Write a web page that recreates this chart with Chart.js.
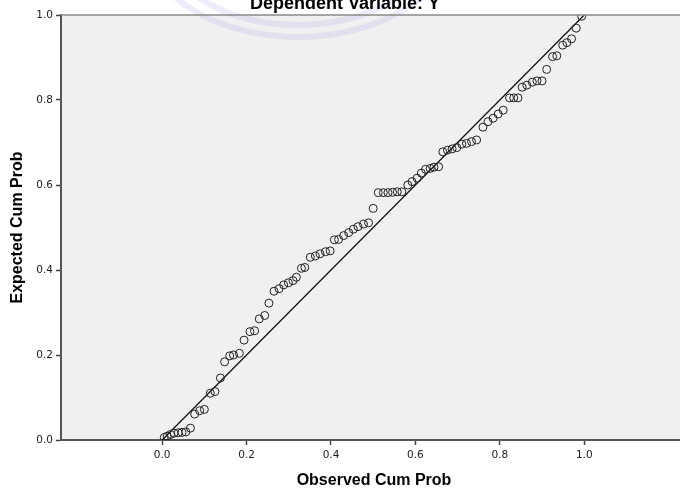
<!DOCTYPE html>
<html>
<head>
<meta charset="utf-8">
<script src="https://cdn.jsdelivr.net/npm/chart.js@4.4.1/dist/chart.umd.min.js"></script>
<style>
html, body { margin: 0; padding: 0; background: #fff; overflow: hidden; }
#wrap { width: 692px; height: 490px; }
</style>
</head>
<body>
<div id="wrap"><canvas id="ppPlot" width="692" height="490"></canvas></div>
<script>
// observed cum prob (x) and expected cum prob (y)
var observed = [0.005, 0.012, 0.020, 0.028, 0.038, 0.047, 0.056, 0.067, 0.077, 0.089,
  0.100, 0.114, 0.125, 0.138, 0.148, 0.160, 0.169, 0.183, 0.194,
  0.208, 0.219, 0.230, 0.243, 0.253, 0.265, 0.277, 0.288, 0.299, 0.310,
  0.318, 0.330, 0.338, 0.351, 0.363, 0.374, 0.387, 0.398,
  0.408, 0.418, 0.430, 0.442, 0.453, 0.464, 0.477, 0.489, 0.500, 0.512,
  0.524, 0.535, 0.546, 0.557, 0.568, 0.582, 0.592, 0.604, 0.614,
  0.624, 0.635, 0.644, 0.655, 0.665, 0.676, 0.687, 0.698, 0.710, 0.721,
  0.733, 0.745, 0.760, 0.772, 0.784, 0.796, 0.808,
  0.823, 0.833, 0.843, 0.853, 0.864, 0.877, 0.888, 0.900, 0.911, 0.925,
  0.935, 0.949, 0.959, 0.970, 0.981, 0.994];
var expected = [0.006, 0.009, 0.013, 0.016, 0.017, 0.018, 0.019, 0.028, 0.061, 0.069,
  0.072, 0.110, 0.114, 0.146, 0.184, 0.198, 0.200, 0.204, 0.235,
  0.255, 0.257, 0.285, 0.293, 0.322, 0.350, 0.356, 0.365, 0.370, 0.375,
  0.383, 0.404, 0.406, 0.430, 0.433, 0.438, 0.443, 0.445,
  0.471, 0.472, 0.481, 0.488, 0.496, 0.502, 0.508, 0.511, 0.545, 0.582,
  0.582, 0.582, 0.583, 0.584, 0.584, 0.600, 0.608, 0.616, 0.628,
  0.637, 0.639, 0.642, 0.643, 0.678, 0.682, 0.685, 0.688, 0.696, 0.698,
  0.702, 0.706, 0.736, 0.749, 0.757, 0.767, 0.776,
  0.805, 0.805, 0.805, 0.830, 0.835, 0.842, 0.845, 0.845, 0.872, 0.902,
  0.904, 0.929, 0.935, 0.944, 0.969, 0.997];
// reference diagonal
var lineX = [0, 1];
var lineY = [0, 1];
var tickValues = [0, 0.2, 0.4, 0.6, 0.8, 1.0];

var points = observed.map(function(v, i){ return {x: v, y: expected[i]}; });
var diag = lineX.map(function(v, i){ return {x: v, y: lineY[i]}; });

var tickFont = {family: '"DejaVu Sans"', size: 10.5};
var titleFont = {family: '"Liberation Sans"', size: 16, weight: 'bold'};

// grey plot area, top frame line, watermark and the cut off title
var plotDecor = {
  id: 'plotDecor',
  beforeDraw: function(chart){
    var ctx = chart.ctx, a = chart.chartArea;
    ctx.save();
    ctx.fillStyle = '#f0f0f0';
    ctx.fillRect(a.left, a.top, a.right - a.left, a.bottom - a.top);
    // faint lavender arcs
    ctx.strokeStyle = 'rgba(160,160,230,0.2)';
    ctx.lineWidth = 6;
    ctx.beginPath();
    ctx.ellipse(298, -60, 152, 97, 0, 0, Math.PI);
    ctx.stroke();
    ctx.beginPath();
    ctx.ellipse(298, -60, 135, 85, 0, 0, Math.PI);
    ctx.stroke();
    ctx.restore();
  },
  afterDraw: function(chart){
    var ctx = chart.ctx, a = chart.chartArea;
    ctx.save();
    ctx.strokeStyle = '#8a8a8a';
    ctx.lineWidth = 1.5;
    ctx.beginPath();
    ctx.moveTo(a.left, a.top);
    ctx.lineTo(a.right, a.top);
    ctx.stroke();
    ctx.fillStyle = '#000';
    ctx.font = 'bold 18px "Liberation Sans"';
    ctx.textAlign = 'center';
    ctx.fillText('Dependent Variable: Y', 345, 9);
    ctx.restore();
  }
};

new Chart('ppPlot', {
  type: 'scatter',
  data: {
    datasets: [{
      data: points,
      pointStyle: 'circle',
      pointRadius: 4,
      borderWidth: 1,
      borderColor: '#222',
      backgroundColor: 'rgba(0,0,0,0)'
    }, {
      type: 'line',
      data: diag,
      borderColor: '#111',
      borderWidth: 1.3,
      pointRadius: 0
    }]
  },
  options: {
    responsive: false,
    animation: false,
    events: [],
    layout: {padding: {top: 15, left: 0, right: 0, bottom: 0}},
    plugins: {legend: {display: false}, tooltip: {enabled: false}},
    scales: {
      x: {
        type: 'linear',
        min: -0.2397,
        max: 1.2435,
        afterBuildTicks: function(s){ s.ticks = tickValues.map(function(v){ return {value: v}; }); },
        afterFit: function(s){ s.height = 50; },
        ticks: {font: tickFont, color: '#222', padding: 4, maxRotation: 0,
          callback: function(v){ return v.toFixed(1); }},
        grid: {drawOnChartArea: false, tickLength: 5, color: '#444', tickWidth: 1.5},
        border: {color: '#555', width: 2},
        title: {display: true, text: 'Observed Cum Prob', font: titleFont, color: '#000',
          padding: {top: 0, bottom: 0}}
      },
      y: {
        min: 0,
        max: 1,
        afterBuildTicks: function(s){ s.ticks = tickValues.map(function(v){ return {value: v}; }); },
        afterFit: function(s){ s.width = 61; },
        ticks: {font: tickFont, color: '#222', padding: 3,
          callback: function(v){ return v.toFixed(1); }},
        grid: {drawOnChartArea: false, tickLength: 5, color: '#444', tickWidth: 1.5},
        border: {color: '#555', width: 2},
        title: {display: true, text: 'Expected Cum Prob', font: titleFont, color: '#000',
          padding: {top: 8, bottom: 0}}
      }
    }
  },
  plugins: [plotDecor]
});
</script>
</body>
</html>
